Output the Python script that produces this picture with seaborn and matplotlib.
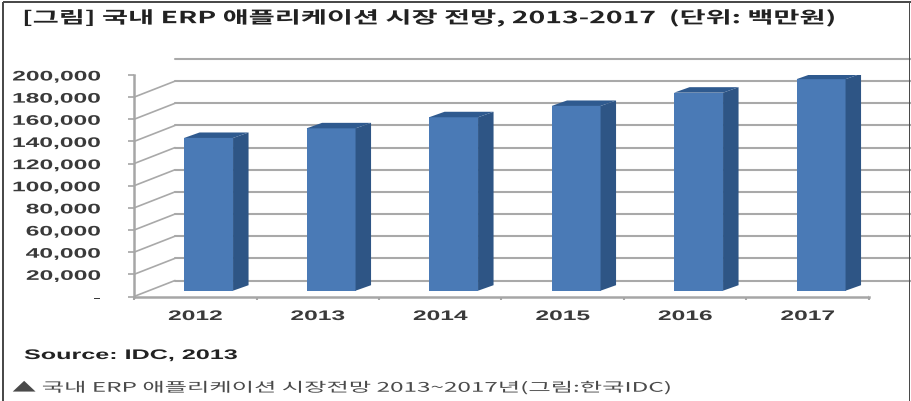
import matplotlib
matplotlib.use("Agg")
import matplotlib.pyplot as plt
from matplotlib.patches import Polygon, Rectangle
from matplotlib.patheffects import AbstractPathEffect
from matplotlib.transforms import Affine2D, IdentityTransform
import pandas as pd
import seaborn as sns

years = ["2012", "2013", "2014", "2015", "2016", "2017"]
market_size = [137900, 146600, 156600, 166800, 178800, 191000]
y_ticks = [0, 20000, 40000, 60000, 80000, 100000, 120000, 140000, 160000, 180000, 200000]
y_tick_labels = ["-", "20,000", "40,000", "60,000", "80,000", "100,000",
                 "120,000", "140,000", "160,000", "180,000", "200,000"]

title = "[그림] 국내 ERP 애플리케이션 시장 전망, 2013-2017  (단위: 백만원)"
source = "Source: IDC, 2013"
caption = "▲ 국내 ERP 애플리케이션 시장전망 2013~2017년(그림:한국IDC)"

W, H = 911, 401
FRONT = "#4a7ab6"
SIDE = "#2e5585"
TOP = "#2f5a8f"
GRID = "#a9a9a9"
KR = ["Noto Sans CJK KR", "DejaVu Sans"]
LATIN = "Liberation Sans"


class Widen(AbstractPathEffect):
    """Draw text stretched horizontally about a fixed pixel column."""

    def __init__(self, factor, anchor_x):
        super().__init__()
        self.factor = factor
        self.anchor_x = anchor_x

    def draw_path(self, renderer, gc, tpath, affine, rgbFace=None):
        stretch = Affine2D().translate(-self.anchor_x, 0).scale(self.factor, 1).translate(self.anchor_x, 0)
        renderer.draw_path(gc, tpath, affine + stretch, rgbFace)


sns.set_theme(style="white")
plt.rcParams["font.family"] = KR

fig = plt.figure(figsize=(W / 100, H / 100), dpi=100, facecolor="white")
ax = fig.add_axes([134 / W, 1 - 296.5 / H, (869 - 134) / W, (296.5 - 75) / H])
ax.patch.set_alpha(0)

df = pd.DataFrame({"year": years, "value": market_size})
sns.barplot(data=df, x="year", y="value", color=FRONT, saturation=1, width=0.4,
            edgecolor="none", linewidth=0, ax=ax, zorder=4)

ax.set_xlim(-0.5, 5.5)
ax.set_ylim(0, 200000)
ax.set_xlabel("")
ax.set_ylabel("")

# Depth of the chart box and of the bars, in pixels
wall_dx, wall_dy = 41, 16
bar_shift_x, bar_shift_y = 13.3, 5.8
bar_dx, bar_dy = 15.5, 5.5

wall = ax.transData + Affine2D().translate(wall_dx, wall_dy)
for v in y_ticks:
    ax.plot([-0.5, 5.84], [v, v], color=GRID, lw=1.5, transform=wall, clip_on=False, zorder=1)
    x0, y0 = ax.transData.transform((-0.5, v))
    ax.add_line(plt.Line2D([x0, x0 + wall_dx], [y0, y0 + wall_dy], color=GRID, lw=1.2,
                           transform=IdentityTransform(), zorder=1))
x0, y0 = ax.transData.transform((5.5, 0))
ax.add_line(plt.Line2D([x0, x0 + wall_dx + 1], [y0, y0 + wall_dy + 0.4], color=GRID, lw=1.2,
                       transform=IdentityTransform(), zorder=1))

# Shift each bar onto the floor and add its side and top faces
shift = ax.transData + Affine2D().translate(bar_shift_x, bar_shift_y)
for bar in list(ax.patches):
    bar.set_transform(shift)
    bar.set_clip_on(False)
    left, right = bar.get_x(), bar.get_x() + bar.get_width()
    (xl, yb) = shift.transform((left, 0))
    (xr, yt) = shift.transform((right, bar.get_height()))
    ax.add_patch(Polygon([(xr, yb), (xr + bar_dx, yb + bar_dy), (xr + bar_dx, yt + bar_dy), (xr, yt)],
                         closed=True, facecolor=SIDE, edgecolor="none",
                         transform=IdentityTransform(), zorder=4))
    ax.add_patch(Polygon([(xl, yt), (xr, yt), (xr + bar_dx, yt + bar_dy), (xl + bar_dx, yt + bar_dy)],
                         closed=True, facecolor=TOP, edgecolor="none",
                         transform=IdentityTransform(), zorder=4))

sns.despine(ax=ax)
for name in ("left", "bottom"):
    ax.spines[name].set_color("#a6a6a6")
    ax.spines[name].set_linewidth(1.8)
    ax.spines[name].set_zorder(5)

ax.set_yticks(y_ticks, y_tick_labels)
ax.tick_params(axis="y", length=4.3, width=1.2, color="#a6a6a6", pad=19.4, left=True,
               labelsize=10, labelcolor="#3a3a3a")
ax.set_xticks([i - 0.5 for i in range(7)], minor=True)
ax.tick_params(axis="x", which="major", length=0, pad=9, labelsize=10, labelcolor="#3a3a3a")
ax.tick_params(axis="x", which="minor", length=2.5, width=1.5, color="#a6a6a6", bottom=True)
for lab in ax.get_yticklabels():
    lab.set_family(LATIN)
    lab.set_fontweight("bold")
    lab.set_path_effects([Widen(1.77, 101)])
for i, lab in enumerate(ax.get_xticklabels()):
    lab.set_family(LATIN)
    lab.set_fontweight("bold")
    lab.set_path_effects([Widen(1.77, ax.transData.transform((i, 0))[0])])

fig.text(22 / W, 1 - 18 / H, title, ha="left", va="center", fontsize=12,
         fontweight="bold", color="#222222", path_effects=[Widen(1.7, 22)])
fig.text(24 / W, 1 - 355 / H, source, ha="left", va="center", fontsize=10,
         fontweight="bold", family=LATIN, color="#222222", path_effects=[Widen(1.81, 24)])
fig.text(12 / W, 1 - 388 / H, caption, ha="left", va="center", fontsize=9.5, color="#4a4a4a",
         path_effects=[Widen(1.84, 12)])

# Picture frame along the top, left and right edges
for xy, w, h in [((3, H - 3), W - 3, 1.5), ((2.2, 0), 1.4, H - 1.5), ((W - 2.2, 0), 1.4, H - 1.5)]:
    fig.add_artist(Rectangle((xy[0] / W, xy[1] / H), w / W, h / H, transform=fig.transFigure,
                             facecolor="#4a4a4a", edgecolor="none"))

fig.savefig("out.png", dpi=100, facecolor="white")
